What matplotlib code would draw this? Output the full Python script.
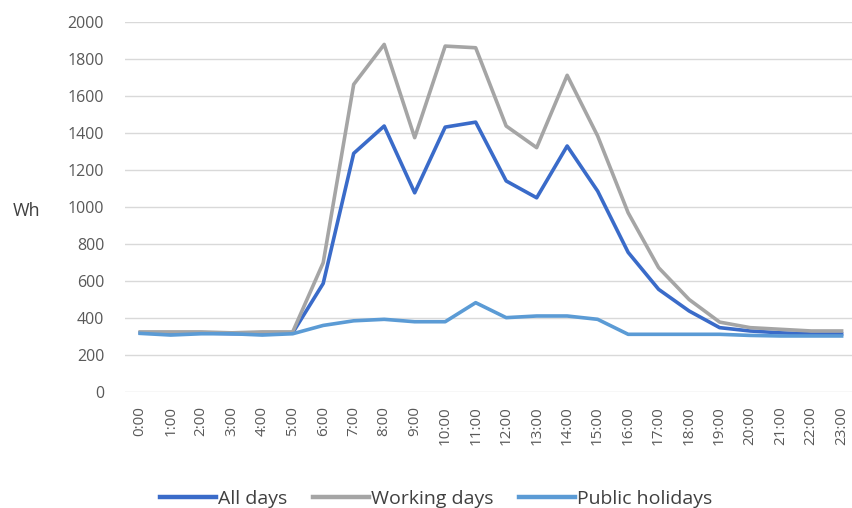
import matplotlib.pyplot as plt

plt.rcParams['font.family'] = ['Open Sans', 'DejaVu Sans']

hours = [f'{h}:00' for h in range(24)]
all_days = [320, 320, 320, 315, 315, 320, 587, 1290, 1438, 1077, 1432, 1459,
            1141, 1050, 1330, 1086, 755, 555, 438, 348, 330, 320, 314, 314]
working_days = [325, 325, 325, 320, 325, 325, 699, 1663, 1879, 1375, 1870, 1861,
                1438, 1321, 1712, 1384, 969, 672, 500, 378, 348, 339, 330, 330]
public_holidays = [317, 308, 315, 315, 308, 315, 360, 385, 393, 380, 380, 483,
                   402, 411, 411, 393, 312, 312, 312, 312, 306, 303, 303, 303]

fig = plt.figure(figsize=(8.52, 5.08), dpi=100)
ax = fig.add_axes([0.1467, 0.2283, 0.859, 0.7283])

x = list(range(len(hours)))
ax.plot(x, all_days, color='#3a6bc9', lw=2.6, label='All days')
ax.plot(x, working_days, color='#a5a5a5', lw=2.6, label='Working days')
ax.plot(x, public_holidays, color='#5b9bd5', lw=2.6, label='Public holidays')

ax.set_xlim(-0.5, 23.5)
ax.set_ylim(0, 2000)
ax.set_yticks(range(0, 2001, 200))
ax.set_xticks(x)
ax.set_xticklabels(hours, rotation=90)
ax.grid(axis='y', color='#d9d9d9', lw=1)
ax.set_axisbelow(True)
for s in ax.spines.values():
    s.set_visible(False)
ax.tick_params(length=0, colors='#595959')
ax.tick_params(axis='y', pad=15, labelsize=11.5)
ax.tick_params(axis='x', pad=10, labelsize=11)

fig.text(0.015, 0.585, 'Wh', fontsize=13, color='#404040', va='center')

leg = fig.legend(loc='lower center', bbox_to_anchor=(0.512, -0.035), ncol=3, frameon=False,
                 fontsize=14, handlelength=2.9, handletextpad=0.1, columnspacing=1.3,
                 labelcolor='#404040')
for h in leg.legend_handles:
    h.set_linewidth(3.2)

fig.savefig('out.png', dpi=100)
